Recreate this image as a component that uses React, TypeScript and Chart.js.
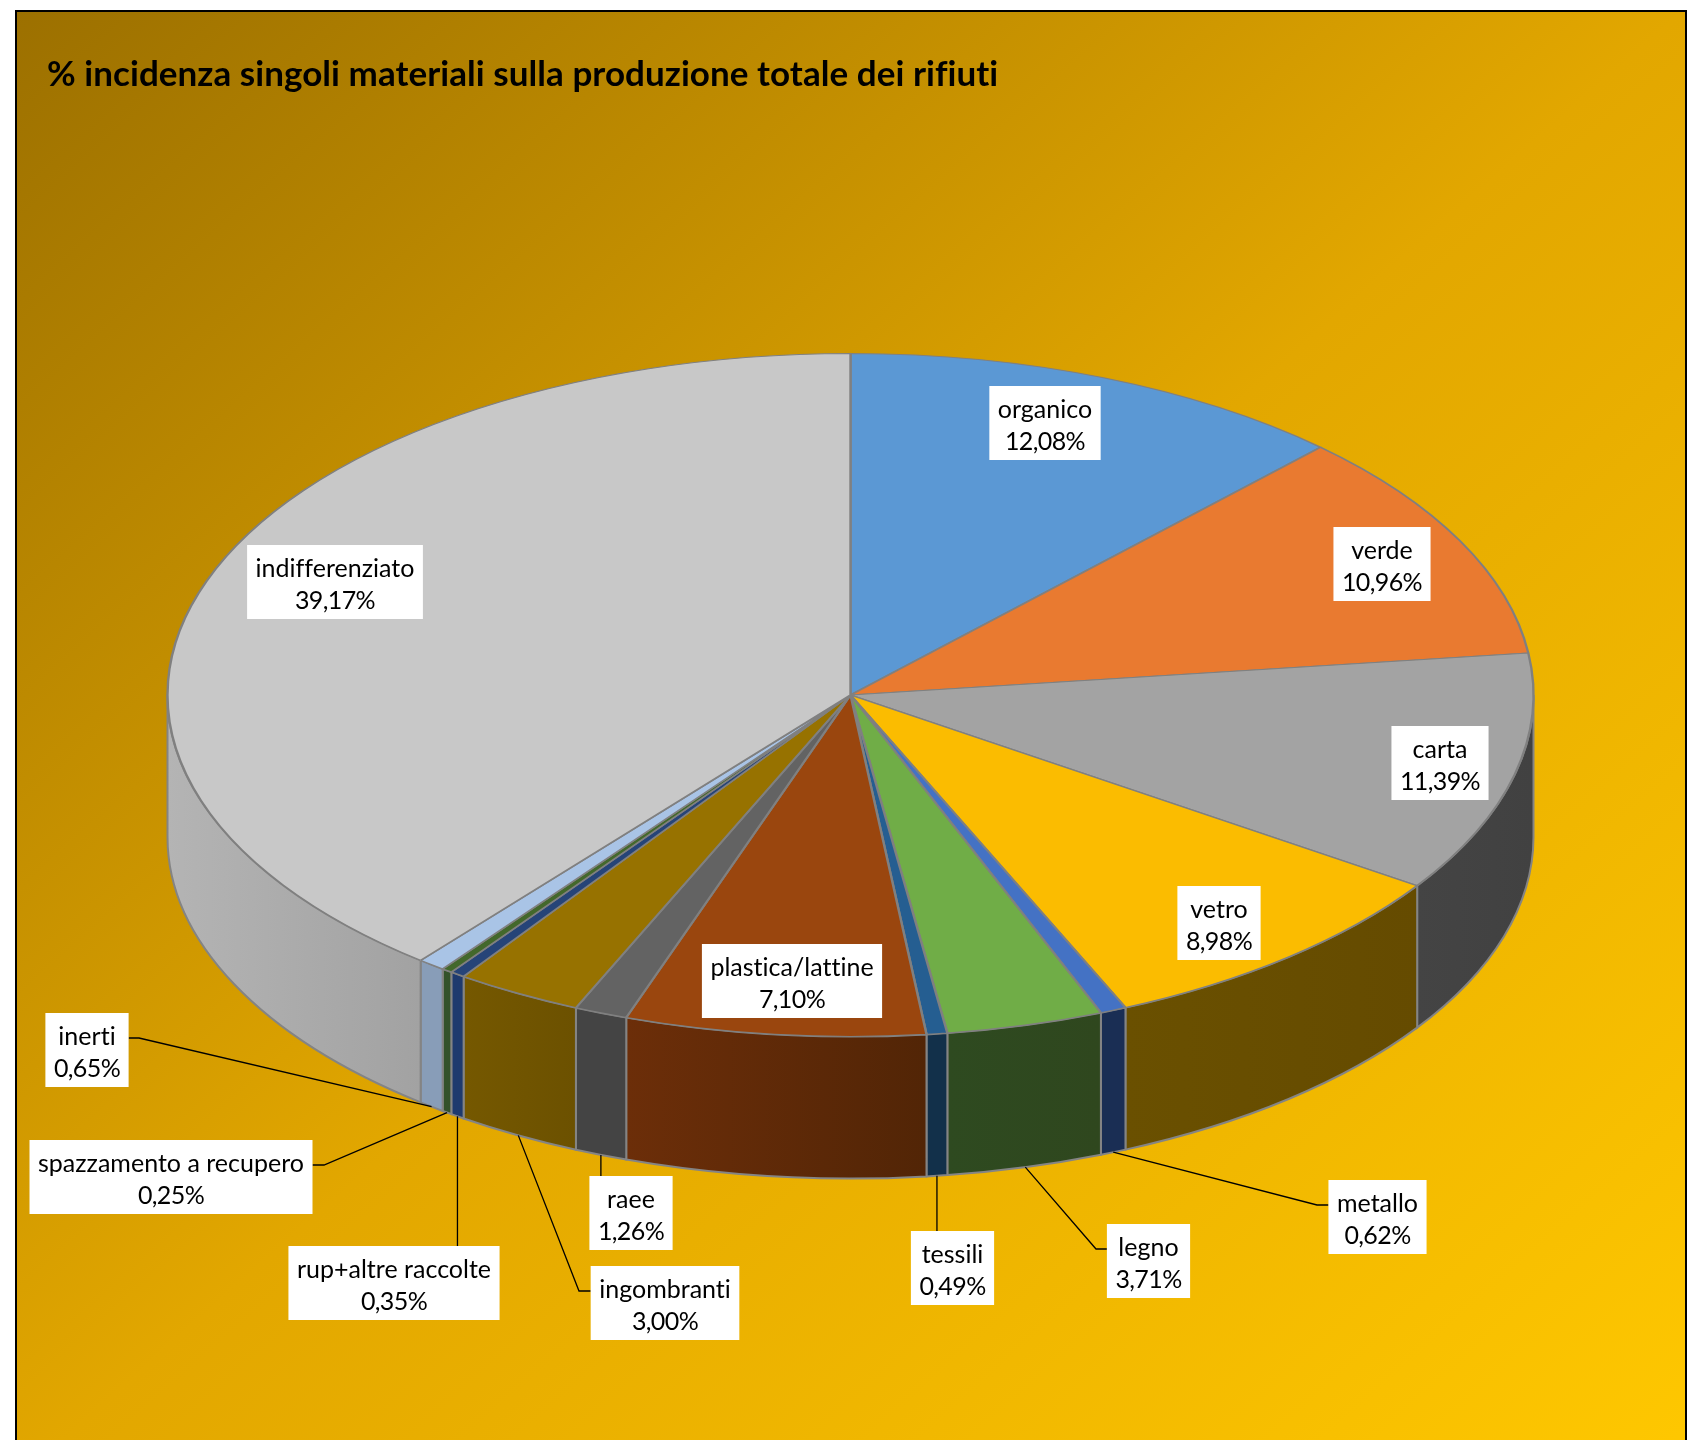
import React, { useEffect, useRef } from "react";
import { Chart, registerables } from "chart.js";

Chart.register(...registerables);

const TITLE = "% incidenza singoli materiali sulla produzione totale dei rifiuti";
const categories = ["organico", "verde", "carta", "vetro", "metallo", "legno", "tessili", "plastica/lattine", "raee", "ingombranti", "rup+altre raccolte", "spazzamento a recupero", "inerti", "indifferenziato"];
const shares = [12.08, 10.96, 11.39, 8.98, 0.62, 3.71, 0.49, 7.10, 1.26, 3.00, 0.35, 0.25, 0.65, 39.17];
const topColors = ["#5B98D4", "#E97A30", "#A3A3A3", "#FBBC00", "#4472C4", "#70AD47", "#255E91", "#9A460E", "#636363", "#977200", "#264478", "#43682B", "#A9C4E6", "#C8C8C8"];
const wallLeft = ["#3A5F82", "#8F4B1E", "#444444", "#6A5000", "#1A2E54", "#2E4A20", "#12304A", "#6C2E09", "#444444", "#755800", "#1E3A6E", "#34522A", "#889DB8", "#B4B4B4"];
const wallRight = ["#3A5F82", "#8F4B1E", "#414141", "#654B00", "#1A2E54", "#2F471E", "#12304A", "#522506", "#444444", "#6C5100", "#1E3A6E", "#34522A", "#889DB8", "#A2A2A2"];

// Label box centres and leader elbows on the page (layout only)
const labelBoxes: [number, number][] = [[1045, 423], [1382, 564], [1440, 763], [1219, 923], [1377.5, 1217], [1148.5, 1261], [952.5, 1268], [792, 981], [631, 1213], [665, 1303], [394, 1283], [171, 1177], [87, 1050], [335, 582]];
const leaderElbows: ([number, number] | null)[] = [null, null, null, null, [1317, 1205], [1096, 1249], null, null, null, [579, 1291], null, [324, 1165], [139, 1038], null];
const leaderSide = ["", "", "", "", "left", "left", "top", "", "top", "left", "top", "right", "right", ""];

const Y_SCALE = 0.5;
const DEPTH = 142;
const FONT = '25px Lato, "Noto Sans", sans-serif';
const LINE = 32;
const TEXT_SHIFT = 2.5;

const framePlugin = {
  id: "frame",
  beforeDraw(chart: any) {
    const { ctx } = chart;
    ctx.save();
    ctx.fillStyle = "#FFFFFF";
    ctx.fillRect(0, 0, chart.width, chart.height);
    const g = ctx.createLinearGradient(122, -82, 1580, 1572);
    g.addColorStop(0, "#9C7000");
    g.addColorStop(0.5, "#E2A700");
    g.addColorStop(1, "#FFC800");
    ctx.fillStyle = g;
    ctx.fillRect(16, 11, 1670, 1440);
    ctx.strokeStyle = "#000000";
    ctx.lineWidth = 2;
    ctx.strokeRect(16, 11, 1670, 1460);
    ctx.restore();
    // Title: no ligatures, like the reference
    ctx.letterSpacing = "0.05px";
  },
};

const pie3dPlugin = {
  id: "pie3d",
  beforeDatasetsDraw(chart: any) {
    const { ctx } = chart;
    ctx.letterSpacing = "0px";
    const arcs = chart.getDatasetMeta(0).data;
    arcs.forEach((arc: any, i: number) => {
      const { x, y, outerRadius: r, startAngle, endAngle } = arc;
      const a0 = Math.max(startAngle, 0);
      const a1 = Math.min(endAngle, Math.PI);
      if (a1 <= a0) return;
      const ry = r * Y_SCALE;
      const xa = x + r * Math.cos(a0);
      const xb = x + r * Math.cos(a1);
      const g = ctx.createLinearGradient(Math.min(xa, xb), 0, Math.max(xa, xb), 0);
      g.addColorStop(0, wallLeft[i]);
      g.addColorStop(1, wallRight[i]);
      ctx.save();
      ctx.beginPath();
      ctx.ellipse(x, y, r, ry, 0, a0, a1);
      ctx.lineTo(x + r * Math.cos(a1), y + ry * Math.sin(a1) + DEPTH);
      ctx.ellipse(x, y + DEPTH, r, ry, 0, a1, a0, true);
      ctx.closePath();
      ctx.fillStyle = g;
      ctx.fill();
      ctx.strokeStyle = "#848484";
      ctx.lineWidth = 2;
      ctx.stroke();
      ctx.restore();
    });
    const first = arcs[0];
    ctx.save();
    ctx.translate(0, first.y);
    ctx.scale(1, Y_SCALE);
    ctx.translate(0, -first.y);
  },
  afterDatasetsDraw(chart: any) {
    chart.ctx.restore();
  },
};

const labelsPlugin = {
  id: "boxLabels",
  afterDraw(chart: any) {
    const { ctx } = chart;
    const arcs = chart.getDatasetMeta(0).data;
    ctx.save();
    ctx.font = FONT;
    ctx.textAlign = "center";
    ctx.textBaseline = "middle";
    arcs.forEach((arc: any, i: number) => {
      const name = categories[i];
      const pct = shares[i].toFixed(2).replace(".", ",") + "%";
      ctx.letterSpacing = "0.01px";
      const nameW = ctx.measureText(name).width;
      ctx.letterSpacing = "-0.6px";
      const pctW = ctx.measureText(pct).width;
      const w = Math.max(nameW, pctW) + 17;
      const h = 74;
      const [cx, cy] = labelBoxes[i];
      const side = leaderSide[i];
      if (side) {
        const mid = (arc.startAngle + arc.endAngle) / 2;
        const ax = arc.x + arc.outerRadius * Math.cos(mid);
        const ay = arc.y + arc.outerRadius * Y_SCALE * Math.sin(mid) + DEPTH;
        ctx.beginPath();
        ctx.moveTo(ax, ay);
        const elbow = leaderElbows[i];
        if (elbow) {
          ctx.lineTo(elbow[0], elbow[1]);
          ctx.lineTo(side === "left" ? cx - w / 2 : cx + w / 2, elbow[1]);
        } else {
          ctx.lineTo(ax, cy - h / 2);
        }
        ctx.strokeStyle = "#000000";
        ctx.lineWidth = 1.3;
        ctx.stroke();
      }
      ctx.fillStyle = "#FFFFFF";
      ctx.fillRect(cx - w / 2, cy - h / 2, w, h);
      ctx.fillStyle = "#000000";
      ctx.letterSpacing = "0.01px";
      ctx.fillText(name, cx, cy - LINE / 2 + TEXT_SHIFT);
      ctx.letterSpacing = "-0.6px";
      ctx.fillText(pct, cx, cy + LINE / 2 + TEXT_SHIFT);
    });
    ctx.restore();
  },
};

export default function App() {
  const ref = useRef<HTMLCanvasElement>(null);
  useEffect(() => {
    const chart = new Chart(ref.current as HTMLCanvasElement, {
      type: "pie",
      data: {
        labels: categories,
        datasets: [{
          data: shares,
          backgroundColor: topColors,
          borderColor: "#808080",
          borderWidth: 2.4,
          radius: 683,
          clip: false,
        } as any],
      },
      options: {
        animation: false,
        responsive: false,
        maintainAspectRatio: false,
        devicePixelRatio: 1,
        layout: { padding: { left: 47, right: 48, top: 54, bottom: 146 } },
        plugins: {
          legend: { display: false },
          tooltip: { enabled: false },
          title: {
            display: true,
            text: TITLE,
            align: "start",
            color: "#000000",
            padding: 0,
            font: { family: 'Lato, "Noto Sans", sans-serif', size: 35, weight: "bold" },
          },
        },
      },
      plugins: [framePlugin, pie3dPlugin, labelsPlugin],
    });
    return () => chart.destroy();
  }, []);
  return (
    <div style={{ position: "absolute", left: 0, top: 0, width: 1702, height: 1440, overflow: "hidden" }}>
      <canvas ref={ref} width={1702} height={1440} style={{ display: "block" }} />
    </div>
  );
}
